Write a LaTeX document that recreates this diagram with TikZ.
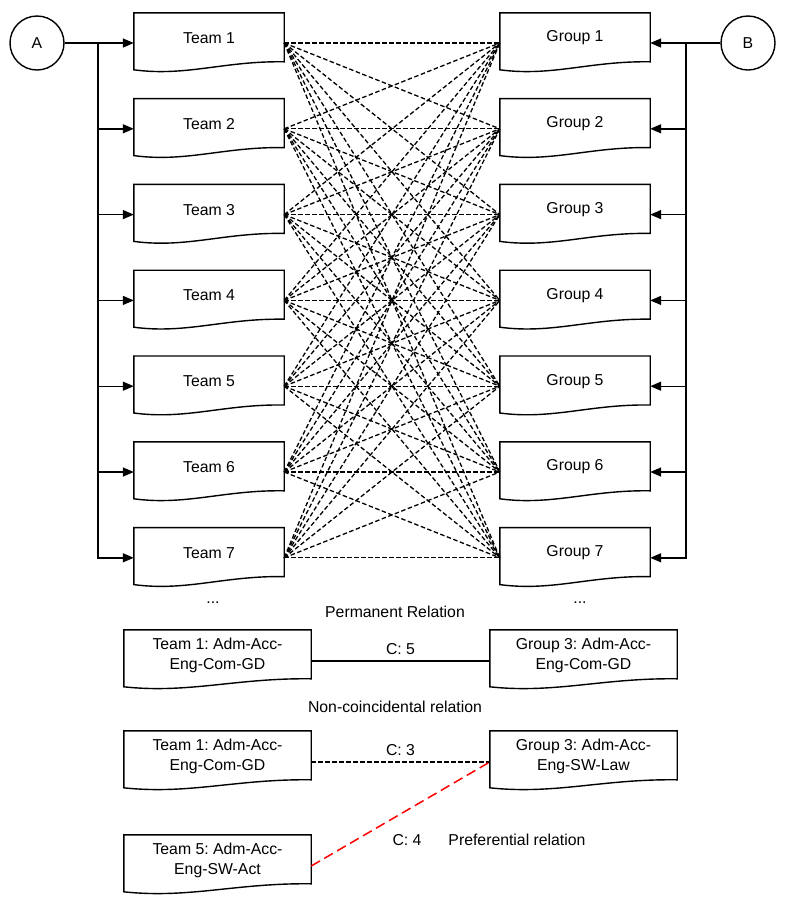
\documentclass[tikz,border=0pt]{standalone}
\usepackage{fontspec}
\setmainfont{Liberation Sans}
\usetikzlibrary{arrows.meta,calc}
\frenchspacing
\tikzset{
  txt/.style={font=\fontsize{15.8}{20}\selectfont},
  docbox/.style={txt, minimum height=50pt, inner sep=0pt, align=center},
  topdoc/.style={docbox, minimum width=150pt},
  botdoc/.style={docbox, minimum width=187pt},
  outline/.style={line width=1.4pt},
  feed/.style={line width=1.4pt, -{Triangle[length=11pt,width=9pt]}},
  link/.style={line width=1.3pt, dash pattern=on 4.5pt off 2.5pt},
  solidlink/.style={line width=1.4pt},
  pref/.style={line width=1.5pt, red, dash pattern=on 10pt off 5pt},
  lbl/.style={txt, inner sep=0pt},
  circ/.style={txt, circle, draw, line width=1.4pt, minimum size=54pt, inner sep=0pt}
}
\newcommand{\docoutline}[1]{%
  \draw[outline] ($(#1.north west)+(0,57)$) -- (#1.north west) -- (#1.north east)
    -- ($(#1.north east)+(0,49)$)
    .. controls ($(#1.north west)!0.6!(#1.north east)+(0,48)$) and ($(#1.north west)!0.35!(#1.north east)+(0,64)$) ..
    ($(#1.north west)+(0,57)$) -- cycle;}
\begin{document}
\begin{tikzpicture}[x=1pt,y=-1pt]
\useasboundingbox (0,0) rectangle (785,906);
% circles
\node[circ] (A) at (37,43) {A};
\node[circ] (B) at (748,43) {B};
% teams and groups
\foreach \k in {1,...,7}{
  \node[topdoc] (t\k) at (209,{38+85.8*(\k-1)}) {Team \k};
  \node[topdoc] (g\k) at (575,{38+85.8*(\k-1)}) {Group \k};
  \docoutline{t\k}
  \docoutline{g\k}
}
% buses
\coordinate (busA) at (98,43);
\coordinate (busB) at (686,43);
\draw[feed] (A) -- ([yshift=-5pt]t1.west);
\draw[feed] (B) -- ([yshift=-5pt]g1.east);
\foreach \k in {2,...,7}{
  \draw[feed] (busA) |- ([yshift=-5pt]t\k.west);
  \draw[feed] (busB) |- ([yshift=-5pt]g\k.east);
}
% all relations
\foreach \i in {1,...,7}{
  \foreach \j in {1,...,7}{
    \draw[link] ([yshift=-5pt]t\i.east) -- ([yshift=-5pt]g\j.west);
  }
}
% dots and titles
\node[lbl] (dl) at (213,603) {...};
\node[lbl] (dr) at (580,603) {...};
\node[lbl] (perm) at (395,612) {Permanent Relation};
% permanent relation
\node[botdoc] (pa) at (217.5,655) {Team 1: Adm-Acc-\\Eng-Com-GD};
\node[botdoc] (pb) at (583.5,655) {Group 3: Adm-Acc-\\Eng-Com-GD};
\docoutline{pa}
\docoutline{pb}
\draw[solidlink] ([yshift=-6pt]pa.east) -- node[lbl, above=6pt] {C: 5} ([yshift=-6pt]pb.west);
\node[lbl] (noncoin) at (395,707) {Non-coincidental relation};
% non-coincidental relation
\node[botdoc] (na) at (217.5,756) {Team 1: Adm-Acc-\\Eng-Com-GD};
\node[botdoc] (nb) at (583.5,756) {Group 3: Adm-Acc-\\Eng-SW-Law};
\docoutline{na}
\docoutline{nb}
\draw[link] ([yshift=-6pt]na.east) -- node[lbl, above=6pt] {C: 3} ([yshift=-6pt]nb.west);
% preferential relation
\node[botdoc] (pr) at (217.5,860) {Team 5: Adm-Acc-\\Eng-SW-Act};
\docoutline{pr}
\draw[pref] ([yshift=-6pt]pr.east) -- ([yshift=-6pt]nb.west);
\node[lbl] (c4) at (407,840) {C: 4};
\node[lbl] (preflbl) at (517,840) {Preferential relation};
\end{tikzpicture}
\end{document}
